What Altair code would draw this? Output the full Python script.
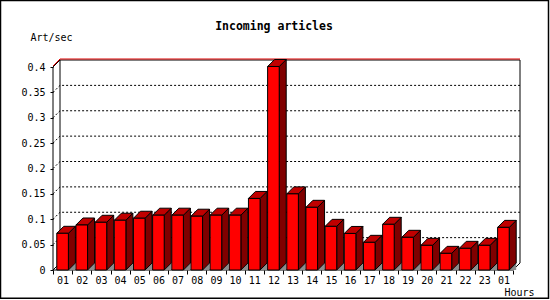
import altair as alt
import pandas as pd

# ---- data ----
hours = ["01", "02", "03", "04", "05", "06", "07", "08", "09", "10", "11", "12",
         "13", "14", "15", "16", "17", "18", "19", "20", "21", "22", "23", "01"]
rates = [0.0723, 0.0887, 0.094, 0.098, 0.102, 0.108, 0.108, 0.106, 0.108, 0.108, 0.141, 0.401,
         0.150, 0.1235, 0.086, 0.072, 0.0545, 0.090, 0.0644, 0.0486, 0.0328, 0.0427, 0.0486, 0.084]
grid_values = [0.05, 0.1, 0.15, 0.2, 0.25, 0.3, 0.35]
y_ticks = [0, 0.05, 0.1, 0.15, 0.2, 0.25, 0.3, 0.35, 0.4]
y_top = 0.4
title_text = "Incoming articles"

# ---- geometry of the pseudo-3D look ----
N = len(hours)
PLOT_W, PLOT_H = 467, 211
SLOT_PX = 460 / N          # pixels per hour slot on the front plane
VAL_PX = 203 / y_top       # pixels per unit of Art/sec
DEPTH_PX = 7
FRONT_PX = 11.6
dx = DEPTH_PX / SLOT_PX
dy = DEPTH_PX / VAL_PX
fw = FRONT_PX / SLOT_PX
off = (1 - fw) / 2
XMAX = PLOT_W / SLOT_PX
YMAX = PLOT_H / VAL_PX

xs = alt.Scale(domain=[0, XMAX], nice=False, zero=False)
ys = alt.Scale(domain=[0, YMAX], nice=False, zero=False)

front, side, top, shadow = [], [], [], []
for i, v in enumerate(rates):
    xl, xr = i + off, i + off + fw
    front.append({"id": i, "x": xl, "x2": xr, "y": 0, "y2": v})
    side += [{"id": i, "x": xr, "y": v, "y2": 0},
             {"id": i, "x": xr + dx, "y": v + dy, "y2": dy}]
    top += [{"id": i, "y": v, "x": xl, "x2": xr},
            {"id": i, "y": v + dy, "x": xl + dx, "x2": xr + dx}]
    shadow += [{"id": i, "x": xr, "y": 0, "y2": 0},
               {"id": i, "x": xr + dx, "y": dy, "y2": 0}]

grid = []
for g in grid_values:
    grid += [{"g": g, "o": 0, "x": 0, "y": g},
             {"g": g, "o": 1, "x": dx, "y": g + dy},
             {"g": g, "o": 2, "x": XMAX, "y": g + dy}]

def seg(name, pts):
    return [{"s": name, "o": k, "x": p[0], "y": p[1]} for k, p in enumerate(pts)]

frame = (seg("top", [(0, y_top), (dx, y_top + dy), (XMAX, y_top + dy)])
         + seg("lb", [(dx, dy), (dx, y_top + dy)])
         + seg("rb", [(XMAX, dy), (XMAX, y_top + dy)])
         + seg("bl", [(0, 0), (dx, dy)])
         + seg("br", [(N, 0), (XMAX, dy)])
         + seg("yaxis", [(0, 0), (0, y_top)])
         + seg("xaxis", [(0, 0), (N, 0)]))
one_px = 1 / VAL_PX
red_edge = seg("red", [(0, y_top + one_px), (dx, y_top + dy + one_px), (XMAX, y_top + dy + one_px)])

FONT = "DejaVu Sans Mono"
label_arr = "[" + ",".join("'%s'" % h for h in hours) + "]"

x_axis = alt.Axis(values=list(range(N + 1)),
                  labelExpr="datum.value < %d ? %s[datum.value] : ''" % (N, label_arr),
                  labelOffset=SLOT_PX / 2, tickSize=4, tickColor="black", domain=False,
                  grid=False, labelFont=FONT, labelFontSize=10, labelColor="black",
                  labelPadding=1, labelOverlap=False, labelFlush=False, labelBound=False,
                  title="Hours", titleFont=FONT, titleFontSize=10, titleFontWeight="normal",
                  titleColor="black", titleX=451, titleY=25.5, titleAlign="left",
                  titleBaseline="alphabetic", titleAngle=0)
y_axis = alt.Axis(values=y_ticks, format="~g", tickSize=3, tickColor="black", domain=False,
                  grid=False, labelFont=FONT, labelFontSize=10, labelColor="black",
                  labelPadding=5, labelBaseline="middle",
                  title="Art/sec", titleFont=FONT, titleFontSize=10, titleFontWeight="normal",
                  titleColor="black", titleX=-23, titleY=-19, titleAlign="left",
                  titleBaseline="alphabetic", titleAngle=0)

X = alt.X("x:Q", scale=xs, axis=x_axis)
Y = alt.Y("y:Q", scale=ys, axis=y_axis)

grid_layer = alt.Chart(pd.DataFrame(grid)).mark_line(
    color="black", strokeWidth=1, strokeDash=[2, 2]).encode(
    x=X, y=Y, detail="g:N", order="o:Q")

frame_layer = alt.Chart(pd.DataFrame(frame)).mark_line(color="black", strokeWidth=1).encode(
    x=X, y=Y, detail="s:N", order="o:Q")

red_layer = alt.Chart(pd.DataFrame(red_edge)).mark_line(color="#e00000", strokeWidth=1).encode(
    x=X, y=Y, detail="s:N", order="o:Q")

shadow_layer = alt.Chart(pd.DataFrame(shadow)).mark_area(
    orient="vertical", color="#8c8c8c").encode(
    x=X, y=Y, y2="y2:Q", detail="id:N")

side_layer = alt.Chart(pd.DataFrame(side)).mark_area(
    orient="vertical", color="#800000", stroke="black", strokeWidth=1).encode(
    x=X, y=Y, y2="y2:Q", detail="id:N")

top_layer = alt.Chart(pd.DataFrame(top)).mark_area(
    orient="horizontal", color="#c00000", stroke="black", strokeWidth=1).encode(
    y=Y, x=X, x2="x2:Q", detail="id:N")

front_layer = alt.Chart(pd.DataFrame(front)).mark_rect(
    color="#ff0000", stroke="black", strokeWidth=1).encode(
    x=X, x2="x2:Q", y=Y, y2="y2:Q")

title_layer = alt.Chart(pd.DataFrame({"t": [title_text]})).mark_text(
    font=FONT, fontSize=11.5, fontWeight="bold", color="black",
    align="center", baseline="alphabetic").encode(
    text="t:N", x=alt.value(221), y=alt.value(-29))

border_layer = alt.Chart(pd.DataFrame({"b": [0]})).mark_rect(
    fill=None, fillOpacity=0, stroke="black", strokeWidth=1.5).encode(
    x=alt.value(-52.5), x2=alt.value(495.5), y=alt.value(-58.5), y2=alt.value(239.2))

chart = alt.layer(
    border_layer, grid_layer, frame_layer, red_layer, shadow_layer, side_layer, top_layer,
    front_layer, title_layer
).properties(
    width=PLOT_W, height=PLOT_H,
    autosize=alt.AutoSizeParams(type="none"),
    padding={"left": 53, "top": 59, "right": 30, "bottom": 30},
    background="white",
).configure_view(stroke=None)

chart.save("out.html", embed_options={"renderer": "svg", "actions": False})
